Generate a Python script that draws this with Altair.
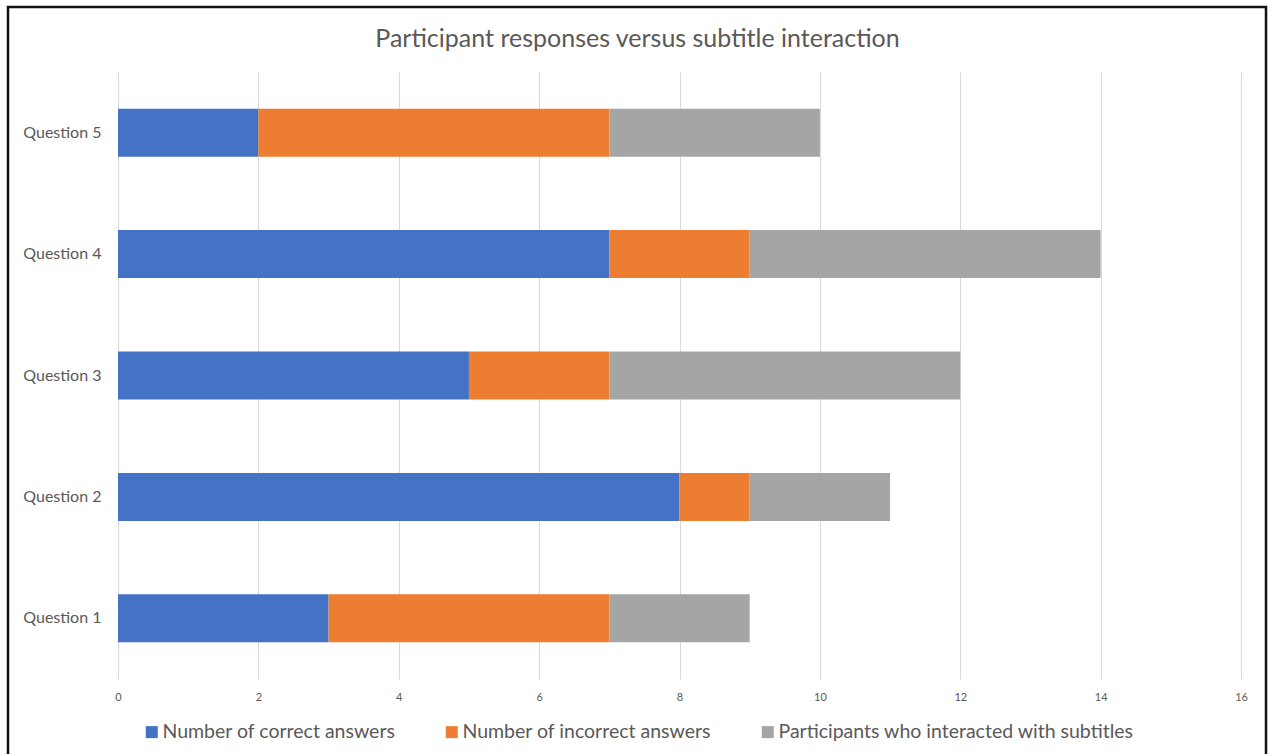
import altair as alt
import pandas as pd

# Questions, top to bottom as drawn
questions = ["Question 1", "Question 2", "Question 3", "Question 4", "Question 5"]
correct = [3, 8, 5, 7, 2]
incorrect = [4, 1, 2, 2, 5]
interacted = [2, 2, 5, 5, 3]

series_names = [
    "Number of correct answers",
    "Number of incorrect answers",
    "Participants who interacted with subtitles",
]
series_colors = ["#4472C4", "#ED7D31", "#A5A5A5"]
x_ticks = [0, 2, 4, 6, 8, 10, 12, 14, 16]

rows = []
for i, q in enumerate(questions):
    for k, (name, vals) in enumerate(zip(series_names, [correct, incorrect, interacted])):
        rows.append({"question": q, "series": name, "value": vals[i], "order": k})
df = pd.DataFrame(rows)

FONT = "Lato"
GREY_TEXT = "#595959"

bars = alt.Chart(df).mark_bar(size=48).encode(
    y=alt.Y(
        "question:N",
        sort=list(reversed(questions)),
        title=None,
        scale=alt.Scale(paddingInner=0.6, paddingOuter=0.3),
        axis=alt.Axis(
            ticks=False,
            domain=False,
            grid=False,
            labelFont=FONT,
            labelFontSize=16,
            labelColor=GREY_TEXT,
            labelPadding=17,
        ),
    ),
    x=alt.X(
        "sum(value):Q",
        stack="zero",
        title=None,
        scale=alt.Scale(domain=[0, 16], nice=False),
        axis=alt.Axis(
            values=x_ticks,
            ticks=False,
            domain=False,
            grid=True,
            gridColor="#D9D9D9",
            gridWidth=1,
            labelFlush=False,
            labelFont=FONT,
            labelFontSize=11,
            labelColor=GREY_TEXT,
            labelPadding=12,
        ),
    ),
    color=alt.Color(
        "series:N",
        scale=alt.Scale(domain=series_names, range=series_colors),
        legend=alt.Legend(
            title=None,
            orient="none",
            direction="horizontal",
            legendX=24,
            legendY=650,
            symbolType="square",
            symbolSize=144,
            symbolStrokeWidth=0,
            labelFont=FONT,
            labelFontSize=19.5,
            labelColor=GREY_TEXT,
            labelOffset=1,
            columnPadding=46,
            labelLimit=500,
        ),
    ),
    order=alt.Order("order:Q"),
)

# Outer frame around the whole figure
frame = alt.Chart(pd.DataFrame({"f": [0]})).mark_rect(
    fill=None, stroke="#111111", strokeWidth=2.5, clip=False
).encode(
    x=alt.value(-110),
    x2=alt.value(1148),
    y=alt.value(-65),
    y2=alt.value(700),
)

chart = alt.layer(bars, frame).properties(
    width=1123,
    height=607,
    padding={"left": 118, "top": 72, "right": 27, "bottom": 75},
    autosize=alt.AutoSizeParams(type="none"),
    background="white",
    title=alt.TitleParams(
        "Participant responses versus subtitle interaction",
        font=FONT,
        fontSize=25,
        fontWeight="normal",
        color=GREY_TEXT,
        anchor="middle",
        dx=-42,
        dy=68,
        offset=22,
    ),
).configure_view(stroke=None)

chart.save("out.html", embed_options={"renderer": "svg", "actions": False})
